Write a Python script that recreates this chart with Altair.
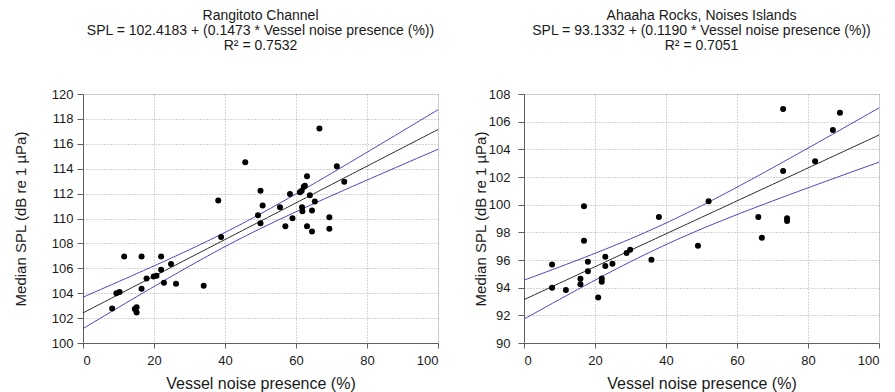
import numpy as np
import pandas as pd
import altair as alt

FONT = "Liberation Sans"

# ---- Rangitoto Channel (left panel) ----
left_x = [8.2, 9.4, 10.3, 11.6, 14.6, 15.1, 15.1, 16.5, 16.5, 17.9, 19.9, 20.7, 22.0, 22.0,
          22.8, 24.8, 26.2, 34.0, 38.1, 38.9, 45.7, 49.3, 50.0, 50.0, 50.6, 55.5, 57.0, 58.3,
          59.0, 61.1, 61.6, 62.2, 62.5, 61.7, 61.8, 63.1, 63.9, 63.1, 64.5, 64.5, 65.3, 66.6,
          69.4, 69.4, 71.5, 73.6]
left_y = [102.77, 104.0, 104.1, 106.94, 102.74, 102.88, 102.45, 106.94, 104.35, 105.19, 105.35,
          105.40, 106.94, 105.89, 104.84, 106.34, 104.76, 104.6, 111.45, 108.52, 114.52, 110.27,
          112.23, 109.62, 111.05, 110.91, 109.38, 111.96, 110.03, 112.1, 112.23, 112.55, 112.63,
          110.91, 110.59, 113.39, 111.86, 109.38, 110.65, 108.95, 111.37, 117.23, 110.11, 109.17,
          114.19, 112.96]
left_a, left_b, left_t = 102.4183, 0.1473, 2.0154
left_title = ["Rangitoto Channel",
              "SPL = 102.4183 + (0.1473 * Vessel noise presence (%))",
              "R² = 0.7532"]

# ---- Ahaaha Rocks, Noises Islands (right panel) ----
right_x = [7.9, 7.9, 11.8, 15.9, 15.9, 16.9, 16.9, 18.0, 18.0, 20.9, 21.9, 21.9, 22.9, 22.9,
           24.9, 28.9, 29.9, 35.9, 38.0, 49.0, 52.0, 66.0, 67.0, 73.0, 73.0, 74.1, 74.1, 82.0,
           87.0, 89.0]
right_y = [95.68, 93.99, 93.84, 94.64, 94.25, 99.88, 97.39, 95.87, 95.19, 93.29, 94.66, 94.42,
           96.23, 95.56, 95.72, 96.50, 96.74, 96.01, 99.11, 97.03, 100.24, 99.11, 97.61, 106.91,
           102.44, 99.01, 98.82, 103.14, 105.39, 106.64]
right_a, right_b, right_t = 93.1332, 0.1190, 2.0484
right_title = ["Ahaaha Rocks, Noises Islands",
               "SPL = 93.1332 + (0.1190 * Vessel noise presence (%))",
               "R² = 0.7051"]

x_ticks = [0, 20, 40, 60, 80, 100]
x_title = "Vessel noise presence (%)"
y_title = "Median SPL (dB re 1 µPa)"


def band(xs, ys, a, b, t):
    x = np.array(xs)
    y = np.array(ys)
    n = len(x)
    resid = y - (a + b * x)
    s = np.sqrt(np.sum(resid ** 2) / (n - 2))
    xbar = x.mean()
    sxx = np.sum((x - xbar) ** 2)
    grid = np.linspace(0, 100, 101)
    fit = a + b * grid
    se = s * np.sqrt(1.0 / n + (grid - xbar) ** 2 / sxx)
    return pd.DataFrame({"x": grid, "fit": fit, "lo": fit - t * se, "hi": fit + t * se})


def panel(xs, ys, a, b, t, ydom, title_lines, ytitle_pad, ylabel_pad):
    pts = pd.DataFrame({"x": xs, "y": ys})
    bd = band(xs, ys, a, b, t)
    xscale = alt.Scale(domain=[0, 100], nice=False, zero=False)
    yscale = alt.Scale(domain=ydom, nice=False, zero=False)
    common = dict(grid=True, gridDash=[1, 2], gridColor="#a8a8a8", gridWidth=1,
                  domainColor="#606060", tickColor="#606060", labelColor="#1a1a1a",
                  titleColor="#1a1a1a", labelFont=FONT, titleFont=FONT, labelFontSize=13,
                  titleFontWeight="normal")
    xaxis = alt.Axis(values=x_ticks, title=x_title, tickSize=5, labelPadding=6,
                     titlePadding=8, titleFontSize=16, **common)
    yaxis = alt.Axis(values=list(range(ydom[0], ydom[1] + 1, 2)), title=y_title, tickSize=6,
                     labelPadding=ylabel_pad, titlePadding=ytitle_pad, titleFontSize=15, **common)
    X = alt.X("x:Q", scale=xscale, axis=xaxis)
    hi = alt.Chart(bd).mark_line(color="#4646c4", strokeWidth=1).encode(
        x=X, y=alt.Y("hi:Q", scale=yscale, axis=yaxis))
    lo = alt.Chart(bd).mark_line(color="#4646c4", strokeWidth=1).encode(
        x=X, y=alt.Y("lo:Q", scale=yscale, axis=yaxis))
    fit = alt.Chart(bd).mark_line(color="#2a2a2a", strokeWidth=1).encode(
        x=X, y=alt.Y("fit:Q", scale=yscale, axis=yaxis))
    dots = alt.Chart(pts).mark_circle(color="black", opacity=1, size=36).encode(
        x=X, y=alt.Y("y:Q", scale=yscale, axis=yaxis))
    return alt.layer(hi, lo, fit, dots).properties(
        width=355, height=249,
        title=alt.TitleParams(text=title_lines, font=FONT, fontSize=14, fontWeight="normal",
                              lineHeight=15, anchor="middle", offset=35, color="#1a1a1a"))


left = panel(left_x, left_y, left_a, left_b, left_t, [100, 120], left_title, 22.5, 4)
right = panel(right_x, right_y, right_a, right_b, right_t, [90, 108], right_title, 0, 8)

chart = alt.hconcat(left, right, spacing=31).properties(
    padding={"left": 5, "top": 0, "right": 5, "bottom": 0}
).configure_view(stroke="#7a7a7a", strokeWidth=1).configure(background="white")

chart.save("out.html", embed_options={"renderer": "svg", "actions": False})
